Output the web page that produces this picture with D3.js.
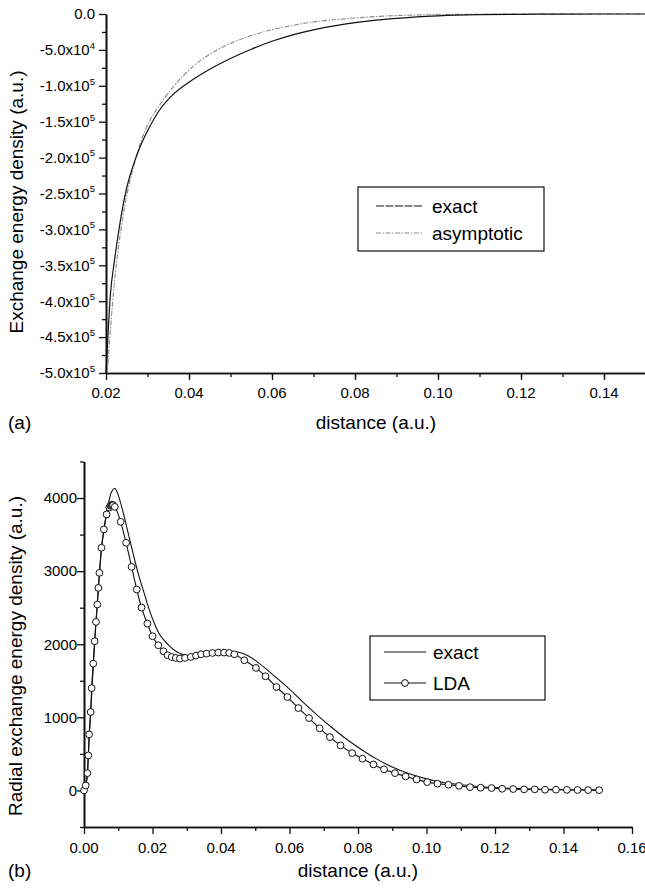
<!DOCTYPE html>
<html><head><meta charset="utf-8">
<script src="https://cdn.jsdelivr.net/npm/d3@7"></script>
<style>
body{margin:0;background:#fff;}
svg{display:block;font-family:"Liberation Sans",Arial,Helvetica,sans-serif;}
</style></head>
<body><svg id="c" width="645" height="890"></svg>
<script>
// ---------- Panel (a) data ----------
const exactA_x = [0.0200,0.0205,0.0210,0.0220,0.0230,0.0240,0.0250,0.0265,0.0280,0.0300,0.0330,0.0360,0.0400,0.0450,0.0500,0.0550,0.0600,0.0650,0.0700,0.0750,0.0800,0.0850,0.0900,0.0950,0.1000,0.1100,0.1200,0.1300,0.1500];
const exactA_y = [-5.0e5,-4.45e5,-3.95e5,-3.45e5,-3.05e5,-2.70e5,-2.42e5,-2.12e5,-1.88e5,-1.63e5,-1.33e5,-1.13e5,-0.95e5,-0.77e5,-0.62e5,-0.49e5,-0.38e5,-0.29e5,-0.22e5,-0.165e5,-0.12e5,-0.085e5,-0.06e5,-0.04e5,-0.026e5,-0.01e5,-0.004e5,-0.001e5,0];
const asymA_x = [0.0203,0.0210,0.0220,0.0230,0.0240,0.0250,0.0265,0.0280,0.0300,0.0330,0.0360,0.0400,0.0450,0.0500,0.0550,0.0600,0.0650,0.0700,0.0750,0.0800,0.0850,0.0900,0.1000,0.1100,0.1200,0.1500];
const asymA_y = [-5.0e5,-4.45e5,-3.75e5,-3.25e5,-2.85e5,-2.53e5,-2.15e5,-1.85e5,-1.55e5,-1.26e5,-1.03e5,-0.78e5,-0.56e5,-0.41e5,-0.30e5,-0.22e5,-0.16e5,-0.11e5,-0.08e5,-0.055e5,-0.035e5,-0.022e5,-0.008e5,-0.003e5,0,0];
const xTicksA = [0.02,0.04,0.06,0.08,0.10,0.12,0.14];
const xTickLabelsA = ["0.02","0.04","0.06","0.08","0.10","0.12","0.14"];
const yTicksA = [0,-0.5e5,-1e5,-1.5e5,-2e5,-2.5e5,-3e5,-3.5e5,-4e5,-4.5e5,-5e5];
const yTickMantA = ["0.0","-5.0x10","-1.0x10","-1.5x10","-2.0x10","-2.5x10","-3.0x10","-3.5x10","-4.0x10","-4.5x10","-5.0x10"];
const yTickExpA = ["","4","5","5","5","5","5","5","5","5","5"];
const legendA = ["exact","asymptotic"];

// ---------- Panel (b) data ----------
const exactB_x = [0,0.0005,0.001,0.0015,0.002,0.0025,0.003,0.0035,0.004,0.0045,0.005,0.006,0.007,0.008,0.009,0.010,0.0115,0.013,0.0145,0.016,0.0175,0.019,0.0205,0.022,0.0235,0.025,0.0265,0.028,0.030,0.032,0.034,0.036,0.038,0.040,0.042,0.044,0.046,0.048,0.050,0.053,0.056,0.060,0.064,0.068,0.072,0.076,0.080,0.085,0.090,0.095,0.100,0.105,0.110,0.115,0.120,0.125,0.130,0.140,0.150];
const exactB_y = [0,60,230,700,1110,1530,1950,2300,2640,2960,3250,3620,3900,4080,4130,4040,3790,3500,3210,2940,2710,2480,2290,2140,2050,1975,1915,1875,1848,1840,1853,1873,1893,1905,1908,1900,1880,1840,1780,1670,1550,1385,1205,1035,875,725,592,442,322,228,158,108,77,55,40,28,20,10,5];
const ldaB_x = [0,0.0005,0.001,0.00126,0.0015,0.00195,0.00224,0.0027,0.0031,0.0035,0.0039,0.0042,0.0045,0.0051,0.0058,0.0066,0.0074,0.0077,0.0079,0.0081,0.0083,0.0085,0.0090,0.0107,0.0123,0.0139,0.0154,0.0168,0.0185,0.0200,0.0217,0.0232,0.0244,0.0256,0.0268,0.0280,0.0295,0.0312,0.0327,0.0342,0.0358,0.0375,0.0392,0.0409,0.0424,0.0439,0.0468,0.0502,0.0530,0.0562,0.0594,0.0626,0.0657,0.0688,0.0718,0.0749,0.0783,0.0813,0.0845,0.0876,0.0908,0.0939,0.0971,0.1002,0.1032,0.1064,0.1095,0.1127,0.1158,0.1190,0.1221,0.1253,0.1285,0.1316,0.1346,0.1378,0.1410,0.1441,0.1472,0.1504];
const ldaB_y = [0,68,237,479,767,1073,1400,1735,2041,2306,2544,2771,2977,3320,3571,3777,3870,3895,3905,3910,3905,3900,3880,3675,3388,3059,2749,2502,2283,2110,1986,1904,1849,1826,1813,1804,1813,1826,1845,1863,1872,1881,1886,1886,1881,1863,1781,1676,1562,1415,1278,1127,990,850,730,616,511,434,356,288,237,192,151,114,92,78,63,45,37,33,23,19,15,15,10,10,8,6,5,4];
const xTicksB = [0,0.02,0.04,0.06,0.08,0.10,0.12,0.14,0.16];
const xTickLabelsB = ["0.00","0.02","0.04","0.06","0.08","0.10","0.12","0.14","0.16"];
const yTicksB = [0,1000,2000,3000,4000];
const yTickLabelsB = ["0","1000","2000","3000","4000"];
const legendB = ["exact","LDA"];

const svg = d3.select("#c");
const FONT_T = 15, FONT_L = 19;
const INK = "#111";

function styleAxis(g){
  g.select(".domain").attr("stroke",INK).attr("stroke-width",1.6);
  g.selectAll(".tick line").attr("stroke",INK).attr("stroke-width",1.3);
  g.selectAll(".tick text").remove();
}

// ================= Panel (a) =================
const xA = d3.scaleLinear().domain([0.02,0.15]).range([106,645.5]);
const yA = d3.scaleLinear().domain([-5e5,0]).range([373,14]);

svg.append("g").attr("transform","translate(0,373)")
  .call(d3.axisBottom(xA).tickValues(d3.range(3,15).map(d=>d/100).concat([0.15])).tickSize(4).tickSizeOuter(0)).call(styleAxis);
svg.append("g").attr("transform","translate(0,373)")
  .call(d3.axisBottom(xA).tickValues(xTicksA).tickSize(7).tickSizeOuter(0)).call(styleAxis);
svg.append("g").attr("transform","translate(106,0)")
  .call(d3.axisLeft(yA).tickValues(d3.range(0,10).map(i=>-0.25e5-i*0.5e5)).tickSize(4).tickSizeOuter(0)).call(styleAxis);
svg.append("g").attr("transform","translate(106,0)")
  .call(d3.axisLeft(yA).tickValues(yTicksA).tickSize(7).tickSizeOuter(0)).call(styleAxis);

svg.append("g").selectAll("text").data(xTicksA).join("text")
  .attr("x",d=>xA(d)).attr("y",397.5).attr("text-anchor","middle")
  .attr("font-size",FONT_T).attr("fill","#000").text((d,i)=>xTickLabelsA[i]);

const ylabA = svg.append("g").selectAll("text").data(yTicksA).join("text")
  .attr("x",95).attr("y",d=>yA(d)+5.3).attr("text-anchor","end")
  .attr("font-size",FONT_T).attr("fill","#000");
ylabA.append("tspan").text((d,i)=>yTickMantA[i]);
ylabA.append("tspan").attr("font-size",9.5).attr("dy",-6.5).text((d,i)=>yTickExpA[i]);

const lineA = d3.line().x(d=>xA(d[0])).y(d=>yA(d[1])).curve(d3.curveMonotoneX);
const exactA = exactA_x.map((x,i)=>[x,exactA_y[i]]);
const asymA = asymA_x.map((x,i)=>[x,asymA_y[i]]);
svg.append("path").datum(asymA).attr("d",lineA).attr("fill","none")
  .attr("stroke","#8a8a8a").attr("stroke-width",1.1).attr("stroke-dasharray","5,1.5,1.5,1.5");
svg.append("path").datum(exactA).attr("d",lineA).attr("fill","none")
  .attr("stroke",INK).attr("stroke-width",1.2);

// legend (a)
svg.append("rect").attr("x",358).attr("y",187).attr("width",186).attr("height",64)
  .attr("fill","#fff").attr("stroke",INK).attr("stroke-width",1.2);
svg.append("line").attr("x1",376).attr("x2",423).attr("y1",206).attr("y2",206)
  .attr("stroke",INK).attr("stroke-width",1.2).attr("stroke-dasharray","8,1.5");
svg.append("line").attr("x1",376).attr("x2",423).attr("y1",233).attr("y2",233)
  .attr("stroke","#8a8a8a").attr("stroke-width",1.1).attr("stroke-dasharray","5,1.5,1.5,1.5");
svg.append("g").selectAll("text").data(legendA).join("text")
  .attr("x",432).attr("y",(d,i)=>213+i*27).attr("font-size",FONT_L).attr("fill","#000").text(d=>d);

svg.append("text").attr("x",376).attr("y",429).attr("text-anchor","middle")
  .attr("font-size",FONT_L).text("distance (a.u.)");
svg.append("text").attr("x",8).attr("y",429).attr("font-size",FONT_L).text("(a)");
svg.append("text").attr("transform","translate(23,202) rotate(-90)").attr("text-anchor","middle")
  .attr("font-size",FONT_L).text("Exchange energy density (a.u.)");

// ================= Panel (b) =================
const xB = d3.scaleLinear().domain([0,0.16]).range([84,632]);
const yB = d3.scaleLinear().domain([-500,4500]).range([827,461.5]);

svg.append("g").attr("transform","translate(0,827)")
  .call(d3.axisBottom(xB).tickValues(d3.range(1,16,2).map(d=>d/100)).tickSize(4).tickSizeOuter(0)).call(styleAxis);
svg.append("g").attr("transform","translate(0,827)")
  .call(d3.axisBottom(xB).tickValues(xTicksB).tickSize(7).tickSizeOuter(0)).call(styleAxis);
svg.append("g").attr("transform","translate(84,0)")
  .call(d3.axisLeft(yB).tickValues([-500,500,1500,2500,3500,4500]).tickSize(4).tickSizeOuter(0)).call(styleAxis);
svg.append("g").attr("transform","translate(84,0)")
  .call(d3.axisLeft(yB).tickValues(yTicksB).tickSize(7).tickSizeOuter(0)).call(styleAxis);

svg.append("g").selectAll("text").data(xTicksB).join("text")
  .attr("x",d=>xB(d)).attr("y",852.5).attr("text-anchor","middle")
  .attr("font-size",FONT_T).attr("fill","#000").text((d,i)=>xTickLabelsB[i]);
svg.append("g").selectAll("text").data(yTicksB).join("text")
  .attr("x",77).attr("y",d=>yB(d)+5.3).attr("text-anchor","end")
  .attr("font-size",FONT_T).attr("fill","#000").text((d,i)=>yTickLabelsB[i]);

const lineB = d3.line().x(d=>xB(d[0])).y(d=>yB(d[1])).curve(d3.curveMonotoneX);
const exactB = exactB_x.map((x,i)=>[x,exactB_y[i]]);
const ldaB = ldaB_x.map((x,i)=>[x,ldaB_y[i]]);
svg.append("path").datum(exactB).attr("d",lineB).attr("fill","none")
  .attr("stroke",INK).attr("stroke-width",1.1);
svg.append("path").datum(ldaB).attr("d",lineB).attr("fill","none")
  .attr("stroke",INK).attr("stroke-width",1.1);
svg.append("g").selectAll("circle").data(ldaB).join("circle")
  .attr("cx",d=>xB(d[0])).attr("cy",d=>yB(d[1])).attr("r",3.4)
  .attr("fill","#fff").attr("stroke",INK).attr("stroke-width",1);

// legend (b)
svg.append("rect").attr("x",370).attr("y",636).attr("width",175).attr("height",64)
  .attr("fill","#fff").attr("stroke",INK).attr("stroke-width",1.2);
svg.append("line").attr("x1",384).attr("x2",426).attr("y1",652).attr("y2",652)
  .attr("stroke",INK).attr("stroke-width",1.1);
svg.append("line").attr("x1",384).attr("x2",426).attr("y1",683).attr("y2",683)
  .attr("stroke",INK).attr("stroke-width",1.1);
svg.append("circle").attr("cx",405).attr("cy",683).attr("r",3.4)
  .attr("fill","#fff").attr("stroke",INK).attr("stroke-width",1);
svg.append("g").selectAll("text").data(legendB).join("text")
  .attr("x",433).attr("y",(d,i)=>659+i*31).attr("font-size",FONT_L).attr("fill","#000").text(d=>d);

svg.append("text").attr("x",358).attr("y",877).attr("text-anchor","middle")
  .attr("font-size",FONT_L).text("distance (a.u.)");
svg.append("text").attr("x",8).attr("y",877).attr("font-size",FONT_L).text("(b)");
svg.append("text").attr("transform","translate(22,656) rotate(-90)").attr("text-anchor","middle")
  .attr("font-size",FONT_L).text("Radial exchange energy density (a.u.)");
</script></body></html>
